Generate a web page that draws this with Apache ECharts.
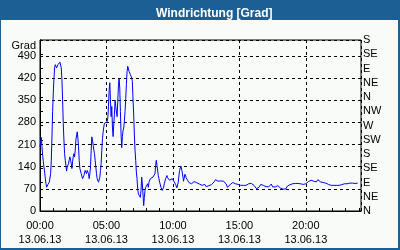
<!DOCTYPE html>
<html><head><meta charset="utf-8">
<script src="https://cdn.jsdelivr.net/npm/echarts@6/dist/echarts.min.js"></script>
<style>html,body{margin:0;padding:0;background:#f8fbf8}#c{width:400px;height:250px}</style>
</head><body><div id="c"></div>
<script>
const titleText = 'Windrichtung [Grad]';
const yAxisName = 'Grad';
const compassLabels = ['N','NE','E','SE','S','SW','W','NW','N','NE','E','SE','S'];
const hourTicks = [0, 5, 10, 15, 20];
const hourTickLabels = ['00:00','05:00','10:00','15:00','20:00'];
const dateLabel = '13.06.13';

// 00:00 - 10:00, sampled every 0.05 h
const startA = 0, stepA = 0.05;
const dirA = [
203,218,232,203,176,155,139,123,102,86,
75,81,84,88,91,97,118,160,234,314,
372,420,452,462,457,452,457,462,466,468,
470,472,452,415,351,277,224,181,160,144,
126,139,144,150,162,171,160,150,134,155,
171,181,171,192,224,237,250,229,203,160,
134,128,118,112,102,107,112,120,128,123,
118,128,134,118,102,118,139,192,234,224,
208,192,181,160,139,118,102,97,91,97,
107,128,150,192,229,250,266,277,282,279,
272,282,293,330,380,405,351,298,330,265,
235,275,305,350,330,325,298,345,395,420,
388,314,240,200,235,255,262,285,315,355,
400,440,457,452,441,436,431,427,420,409,
351,303,240,192,160,123,102,70,54,49,
59,43,65,107,86,54,17,43,65,75,
81,70,86,75,91,97,102,105,105,105,
107,107,105,118,144,160,144,139,112,102,
91,86,75,70,65,70,75,86,91,102,
107,112,105,102,102,97,102,99,97,102,
99];

// 10:06 - 23:54, sampled every 0.1 h
const startB = 10.1, stepB = 0.1;
const dirB = [
92,84,73,91,128,142,123,94,116,105,
97,90,86,86,86,93,94,89,87,85,
83,81,85,84,77,83,80,80,83,87,
92,99,95,94,95,95,94,94,93,86,
75,77,83,89,90,87,86,86,84,81,
81,81,81,81,81,82,86,86,87,83,
81,78,70,67,76,84,87,81,75,77,
75,76,82,85,76,72,76,81,80,75,
72,74,69,67,70,78,82,83,82,86,
85,87,90,87,87,86,86,84,85,86,
91,93,95,97,98,94,89,92,99,95,
92,89,90,88,88,86,84,82,81,81,
81,81,81,81,81,81,83,86,86,86,
86,86,88,86,88,86,87,87,88];

const data = [];
dirA.forEach((v, i) => data.push([+(startA + i * stepA).toFixed(3), v]));
dirB.forEach((v, i) => data.push([+(startB + i * stepB).toFixed(3), v]));

const font = '"Liberation Sans", Arial, sans-serif';
const blue = '#1c5f94';
const chart = echarts.init(document.getElementById('c'), null, {renderer: 'canvas'});
chart.setOption({
  animation: false,
  backgroundColor: '#f8fbf8',
  title: {
    text: titleText, left: 151, top: 3,
    textStyle: {color: '#ffffff', fontWeight: 'bold', fontSize: 12, fontFamily: font}
  },
  graphic: [
    {type: 'rect', shape: {x: 0, y: 0, width: 400, height: 20}, style: {fill: blue}, z: 0},
    {type: 'rect', shape: {x: 0, y: 0, width: 1, height: 250}, style: {fill: blue}, z: 0},
    {type: 'rect', shape: {x: 398, y: 0, width: 2, height: 250}, style: {fill: blue}, z: 0},
    {type: 'rect', shape: {x: 0, y: 248, width: 400, height: 2}, style: {fill: blue}, z: 0},
    {type: 'text', x: 36, y: 46, z: 10,
     style: {text: yAxisName, align: 'right', verticalAlign: 'middle', fill: '#000', font: '11px ' + font}}
  ],
  grid: {left: 40, right: 39, top: 40, bottom: 39, show: true, borderColor: '#000', borderWidth: 1, backgroundColor: 'transparent'},
  xAxis: [{
    type: 'value', min: 0, max: 24.15, interval: 5,
    axisLine: {show: true, lineStyle: {color: '#000', width: 1}},
    axisTick: {show: false},
    splitLine: {show: true, lineStyle: {color: '#000', type: [3, 3], width: 1}},
    axisLabel: {
      showMaxLabel: false, color: '#000', fontSize: 11, fontFamily: font, lineHeight: 14, margin: 8,
      formatter: v => {
        const i = hourTicks.indexOf(v);
        return i < 0 ? '' : hourTickLabels[i] + '\n' + dateLabel;
      }
    }
  }, {
    type: 'value', min: 0, max: 24.15, interval: 1, position: 'bottom',
    axisLine: {show: false},
    axisTick: {show: true, inside: true, length: 3, lineStyle: {color: '#000'}},
    axisLabel: {show: false},
    splitLine: {show: false}
  }],
  yAxis: [{
    type: 'value', min: 0, max: 540, interval: 70, position: 'left',
    axisLine: {show: true, lineStyle: {color: '#000', width: 1}},
    axisTick: {show: false},
    splitLine: {show: true, lineStyle: {color: '#000', type: [3, 3], width: 1}},
    axisLabel: {showMaxLabel: false, color: '#000', fontSize: 11, fontFamily: font, margin: 4}
  }, {
    type: 'value', min: 0, max: 540, interval: 45, position: 'right',
    axisLine: {show: true, lineStyle: {color: '#000', width: 1}},
    axisTick: {show: true, length: 3, lineStyle: {color: '#000'}},
    splitLine: {show: false},
    axisLabel: {
      color: '#000', fontSize: 11, fontFamily: font, margin: 2,
      formatter: v => compassLabels[Math.round(v / 45)]
    }
  }],
  series: [{
    type: 'line', data: data, xAxisIndex: 0, yAxisIndex: 0,
    showSymbol: false, symbol: 'none', smooth: false,
    lineStyle: {color: '#0000ff', width: 1}
  }]
});
</script>
</body></html>
